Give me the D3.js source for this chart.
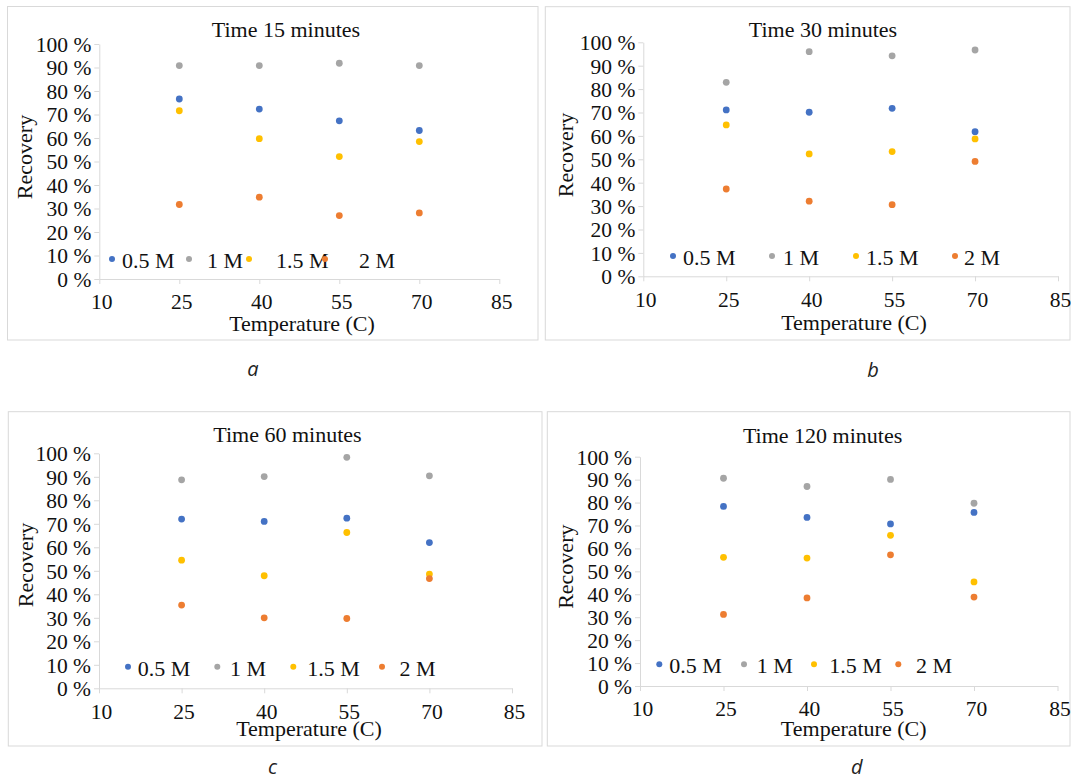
<!DOCTYPE html>
<html>
<head>
<meta charset="utf-8">
<script src="https://cdn.jsdelivr.net/npm/d3@7"></script>
<style>
  body { margin: 0; background: #fff; }
  svg { display: block; }
</style>
</head>
<body>
<div id="fig"></div>
<script>
// valeurs
const temps = [25, 40, 55, 70];
const concs = ["0.5 M", "1 M", "1.5 M", "2 M"];
const times = [15, 30, 60, 120];
const captions = ["a", "b", "c", "d"];
const xTicks = [10, 25, 40, 55, 70, 85];
const yTicks = [0, 10, 20, 30, 40, 50, 60, 70, 80, 90, 100];

// recovery (%) : une ligne par concentration, une colonne par température
const rec15 = [[76.6, 72.3, 67.3, 63.2], [90.8, 90.8, 91.8, 90.8], [71.6, 59.7, 52.1, 58.5], [31.7, 34.8, 27.0, 28.1]];
const rec30 = [[71.1, 70.1, 71.8, 61.8], [82.9, 96.0, 94.2, 96.7], [64.7, 52.3, 53.3, 58.7], [37.3, 32.1, 30.6, 49.1]];
const rec60 = [[72.0, 71.0, 72.4, 62.0], [88.7, 90.1, 98.3, 90.4], [54.5, 47.9, 66.3, 48.6], [35.4, 30.0, 29.7, 46.7]];
const rec120 = [[78.3, 73.5, 70.7, 75.7], [90.6, 87.0, 90.1, 79.7], [56.1, 55.8, 65.7, 45.4], [31.2, 38.4, 57.2, 38.8]];
const recs = [rec15, rec30, rec60, rec120];

const colors = ["#4472C4", "#A5A5A5", "#FFC000", "#ED7D31"];

// mise en page de chaque panneau (positions seulement)
const layouts = [
  {box: [7.5, 6.5, 538, 340], x0: 99.3, x1: 499.3, yt: 44, yb: 279, title: [286, 37.3], ylab: [24, 157], xlab: [302, 331],
   cap: [253, 376], legM: [112, 189, 249, 325], legT: [122, 207, 276, 359], legY: 259},
  {box: [545.3, 6.7, 1070, 340], x0: 643.3, x1: 1058, yt: 42.3, yb: 276.3, title: [823, 37], ylab: [565, 155], xlab: [854, 330],
   cap: [873, 377], legM: [673, 772, 856, 955], legT: [683, 783, 866, 964], legY: 256},
  {box: [8.3, 411.7, 542, 746], x0: 99, x1: 512, yt: 453.3, yb: 688.3, title: [287.5, 441.7], ylab: [25, 565], xlab: [309, 736],
   cap: [272.5, 774], legM: [128, 217.3, 293.3, 382], legT: [137.7, 230, 307.3, 399.5], legY: 666.7},
  {box: [547.3, 411.7, 1070, 746], x0: 640, x1: 1057.5, yt: 456.7, yb: 686, title: [822.6, 443.3], ylab: [565, 566.7], xlab: [853.7, 736],
   cap: [856.7, 774], legM: [659.3, 744, 814, 898.3], legT: [669.3, 756.7, 829.3, 916], legY: 664.3}
];

const width = 1071, height = 780;
const serif = "'Liberation Serif', 'Times New Roman', serif";

const svg = d3.select("#fig").append("svg")
    .attr("width", width)
    .attr("height", height)
    .attr("viewBox", [0, 0, width, height]);

svg.append("rect").attr("width", width).attr("height", height).attr("fill", "#fff");

layouts.forEach((L, p) => {
  const g = svg.append("g");

  // cadre
  g.append("rect")
    .attr("x", L.box[0]).attr("y", L.box[1])
    .attr("width", L.box[2] - L.box[0]).attr("height", L.box[3] - L.box[1])
    .attr("fill", "none").attr("stroke", "#d9d9d9").attr("stroke-width", 1);

  const x = d3.scaleLinear().domain([10, 85]).range([L.x0, L.x1]);
  const y = d3.scaleLinear().domain([0, 100]).range([L.yb, L.yt]);

  // axes
  const yAxis = g.append("g")
    .attr("transform", `translate(${L.x0},0)`)
    .call(d3.axisLeft(y).tickValues(yTicks).tickSize(5).tickSizeOuter(0).tickPadding(3).tickFormat(d => d + " %"));

  const xAxis = g.append("g")
    .attr("transform", `translate(0,${L.yb})`)
    .call(d3.axisBottom(x).tickValues(xTicks).tickSize(5).tickSizeOuter(0).tickPadding(10));

  [xAxis, yAxis].forEach(a => {
    a.select(".domain").attr("stroke", "#d9d9d9");
    a.selectAll(".tick line").attr("stroke", "#d9d9d9");
    a.selectAll(".tick text")
      .attr("fill", "#111")
      .style("font-family", serif)
      .style("font-size", "21.5px");
  });
  xAxis.selectAll(".tick text").attr("dx", 2);
  yAxis.selectAll(".tick text").attr("dy", "0.34em");

  // points
  concs.forEach((c, s) => {
    g.append("g").selectAll("circle")
      .data(temps.map((t, i) => ({t: t, v: recs[p][s][i]})))
      .enter()
      .append("circle")
      .attr("cx", d => x(d.t))
      .attr("cy", d => y(d.v))
      .attr("r", 3.4)
      .attr("fill", colors[s]);
  });

  // titres
  g.append("text")
    .attr("x", L.title[0]).attr("y", L.title[1])
    .attr("text-anchor", "middle")
    .style("font-family", serif).style("font-size", "22px").attr("fill", "#111")
    .text(`Time ${times[p]} minutes`);

  g.append("text")
    .attr("transform", `translate(${L.ylab[0]},${L.ylab[1]}) rotate(-90)`)
    .attr("text-anchor", "middle")
    .attr("dy", "0.35em")
    .style("font-family", serif).style("font-size", "22px").attr("fill", "#111")
    .text("Recovery");

  g.append("text")
    .attr("x", L.xlab[0]).attr("y", L.xlab[1])
    .attr("text-anchor", "middle")
    .style("font-family", serif).style("font-size", "22px").attr("fill", "#111")
    .text("Temperature (C)");

  // légende
  concs.forEach((c, s) => {
    g.append("circle")
      .attr("cx", L.legM[s]).attr("cy", L.legY)
      .attr("r", 3).attr("fill", colors[s]);
    g.append("text")
      .attr("x", L.legT[s]).attr("y", L.legY + 9)
      .style("font-family", serif).style("font-size", "22px").attr("fill", "#111")
      .text(c);
  });

  // lettre du panneau
  g.append("text")
    .attr("x", L.cap[0]).attr("y", L.cap[1])
    .attr("text-anchor", "middle")
    .style("font-family", "'Open Sans', sans-serif").style("font-size", "20px")
    .style("font-style", "italic").attr("fill", "#222")
    .text(captions[p]);
});
</script>
</body>
</html>
